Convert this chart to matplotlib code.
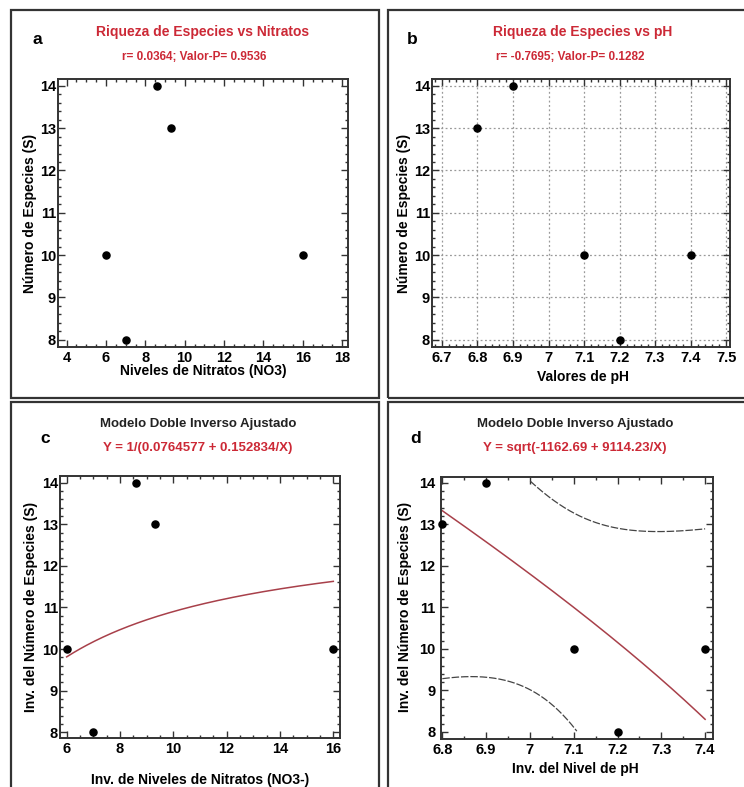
import numpy as np
import matplotlib
matplotlib.use("Agg")
import matplotlib.pyplot as plt
from matplotlib.ticker import MultipleLocator, AutoMinorLocator
from matplotlib.patches import Rectangle

# --- Data ---
especies = [14, 13, 10, 8, 10]           # Número de especies (S)
nitratos = [8.6, 9.3, 6.0, 7.0, 16.0]    # NO3
ph = [6.9, 6.8, 7.1, 7.2, 7.4]           # pH

# fitted double-inverse models (coefficients from the figure labels)
coef_c = (0.0764577, 0.152834)   # Y = 1/(a + b/X)
coef_d = (-1162.69, 9114.23)     # Y = sqrt(a + b/X)
t_95 = 3.182                      # t(0.975, 3 gl)

W, H = 744, 787
RED = "#cc2936"
DARKRED = "#a8404a"
SPINE = "#333333"
FONT = "Liberation Sans"

plt.rcParams["font.family"] = [FONT, "DejaVu Sans"]
plt.rcParams["font.weight"] = "bold"

fig = plt.figure(figsize=(W / 100, H / 100), dpi=100)


def ax_px(left, top, right, bottom):
    return fig.add_axes([left / W, 1 - bottom / H, (right - left) / W, (bottom - top) / H])


def txt(x, y, s, **kw):
    kw.setdefault("ha", "center")
    kw.setdefault("va", "center")
    kw.setdefault("fontweight", "bold")
    fig.text(x / W, 1 - y / H, s, **kw)


def style(ax, xmaj, xminor_n, ymaj=1, yminor_n=5, ypad=1.5):
    ax.xaxis.set_major_locator(MultipleLocator(xmaj))
    ax.xaxis.set_minor_locator(AutoMinorLocator(xminor_n))
    ax.yaxis.set_major_locator(MultipleLocator(ymaj))
    ax.yaxis.set_minor_locator(AutoMinorLocator(yminor_n))
    ax.tick_params(which="both", direction="in", top=True, right=True,
                   color=SPINE, width=1)
    ax.tick_params(which="major", length=5, labelsize=10.5)
    ax.tick_params(axis="y", which="major", pad=ypad)
    ax.tick_params(axis="x", which="major", pad=3)
    ax.tick_params(which="minor", length=2.5)
    for s in ax.spines.values():
        s.set_linewidth(1.4)
        s.set_color(SPINE)
    for lab in ax.get_xticklabels() + ax.get_yticklabels():
        lab.set_fontweight("bold")


def fmt(v, pos=None):
    return f"{v:g}"


# panel frames
for (x0, y0, x1, y1) in [(11, 9.5, 379, 398), (388, 9.5, 760, 398),
                         (11, 402, 379, 800), (388, 402, 760, 800)]:
    fig.patches.append(Rectangle((x0 / W, 1 - y1 / H), (x1 - x0) / W, (y1 - y0) / H,
                                 transform=fig.transFigure, fill=False,
                                 edgecolor=SPINE, linewidth=1.6))

# --- a: especies vs nitratos ---
ax = ax_px(58, 79, 348, 347)
ax.scatter(nitratos, especies, s=26, color="black", zorder=3)
ax.set_xlim(3.56, 18.3)
ax.set_ylim(7.83, 14.16)
style(ax, 2, 4)
ax.xaxis.set_major_formatter(fmt)
txt(37, 39, "a", fontsize=12.5)
txt(203, 32, "Riqueza de Especies vs Nitratos", fontsize=10, color=RED)
txt(194, 57, "r= 0.0364; Valor-P= 0.9536", fontsize=8.5, color=RED)
txt(203, 371, "Niveles de Nitratos (NO3)", fontsize=10)
txt(30, 213, "Número de Especies (S)", fontsize=10, rotation=90)

# --- b: especies vs pH ---
ax = ax_px(432, 79, 730, 347)
ax.scatter(ph, especies, s=26, color="black", zorder=3)
ax.set_xlim(6.672, 7.511)
ax.set_ylim(7.83, 14.16)
style(ax, 0.1, 5)
ax.xaxis.set_major_formatter(fmt)
ax.grid(True, which="major", linestyle=(0, (1.5, 2)), color="#999999", linewidth=0.9)
txt(412, 39, "b", fontsize=12.5)
txt(583, 32, "Riqueza de Especies vs pH", fontsize=10, color=RED)
txt(570, 57, "r= -0.7695; Valor-P= 0.1282", fontsize=8.5, color=RED)
txt(583, 377, "Valores de pH", fontsize=10)
txt(404, 213, "Número de Especies (S)", fontsize=10, rotation=90)

# --- c: modelo doble inverso, nitratos ---
ax = ax_px(60, 476, 340, 738)
xc = np.linspace(min(nitratos), max(nitratos), 200)
ax.plot(xc, 1 / (coef_c[0] + coef_c[1] / xc), color=DARKRED, linewidth=1.1, zorder=2)
ax.scatter(nitratos, especies, s=26, color="black", zorder=3, clip_on=False)
ax.set_xlim(5.75, 16.25)
ax.set_ylim(7.86, 14.16)
style(ax, 2, 4)
txt(45, 438, "c", fontsize=12.5)
txt(198, 424, "Modelo Doble Inverso Ajustado", fontsize=9.5, color="#222222")
txt(198, 448, "Y = 1/(0.0764577 + 0.152834/X)", fontsize=9.5, color=RED)
txt(200, 780, "Inv. de Niveles de Nitratos (NO3-)", fontsize=10)
txt(31, 607, "Inv. del Número de Especies (S)", fontsize=10, rotation=90)

# --- d: modelo doble inverso, pH (with 95% limits for the mean) ---
ax = ax_px(441, 477, 713, 739)
xd = np.linspace(min(ph), max(ph), 300)
u = 1 / np.array(ph)
v = np.array(especies, dtype=float) ** 2
vfit = coef_d[0] + coef_d[1] / xd
resid = v - (coef_d[0] + coef_d[1] * u)
s_res = np.sqrt(np.sum(resid ** 2) / (len(v) - 2))
suu = np.sum((u - u.mean()) ** 2)
half = t_95 * s_res * np.sqrt(1 / len(v) + (1 / xd - u.mean()) ** 2 / suu)
ax.plot(xd, np.sqrt(vfit), color=DARKRED, linewidth=1.1, zorder=2)
for band in (vfit + half, vfit - half):
    yb = np.sqrt(np.clip(band, 0, None))
    yb = np.where((band > 0) & (yb >= min(especies)) & (yb <= max(especies) + 0.05), yb, np.nan)
    ax.plot(xd, yb, color="#444444", linewidth=0.9, linestyle=(0, (6, 1.5)), zorder=2)
ax.scatter(ph, especies, s=26, color="black", zorder=3, clip_on=False)
ax.set_xlim(6.797, 7.418)
ax.set_ylim(7.83, 14.14)
style(ax, 0.1, 2, ypad=4)
ax.xaxis.set_major_formatter(fmt)
txt(416, 438, "d", fontsize=12.5)
txt(575, 424, "Modelo Doble Inverso Ajustado", fontsize=9.5, color="#222222")
txt(575, 448, "Y = sqrt(-1162.69 + 9114.23/X)", fontsize=9.5, color=RED)
txt(575, 769, "Inv. del Nivel de pH", fontsize=10)
txt(405, 607, "Inv. del Número de Especies (S)", fontsize=10, rotation=90)

fig.savefig("out.png", dpi=100)
